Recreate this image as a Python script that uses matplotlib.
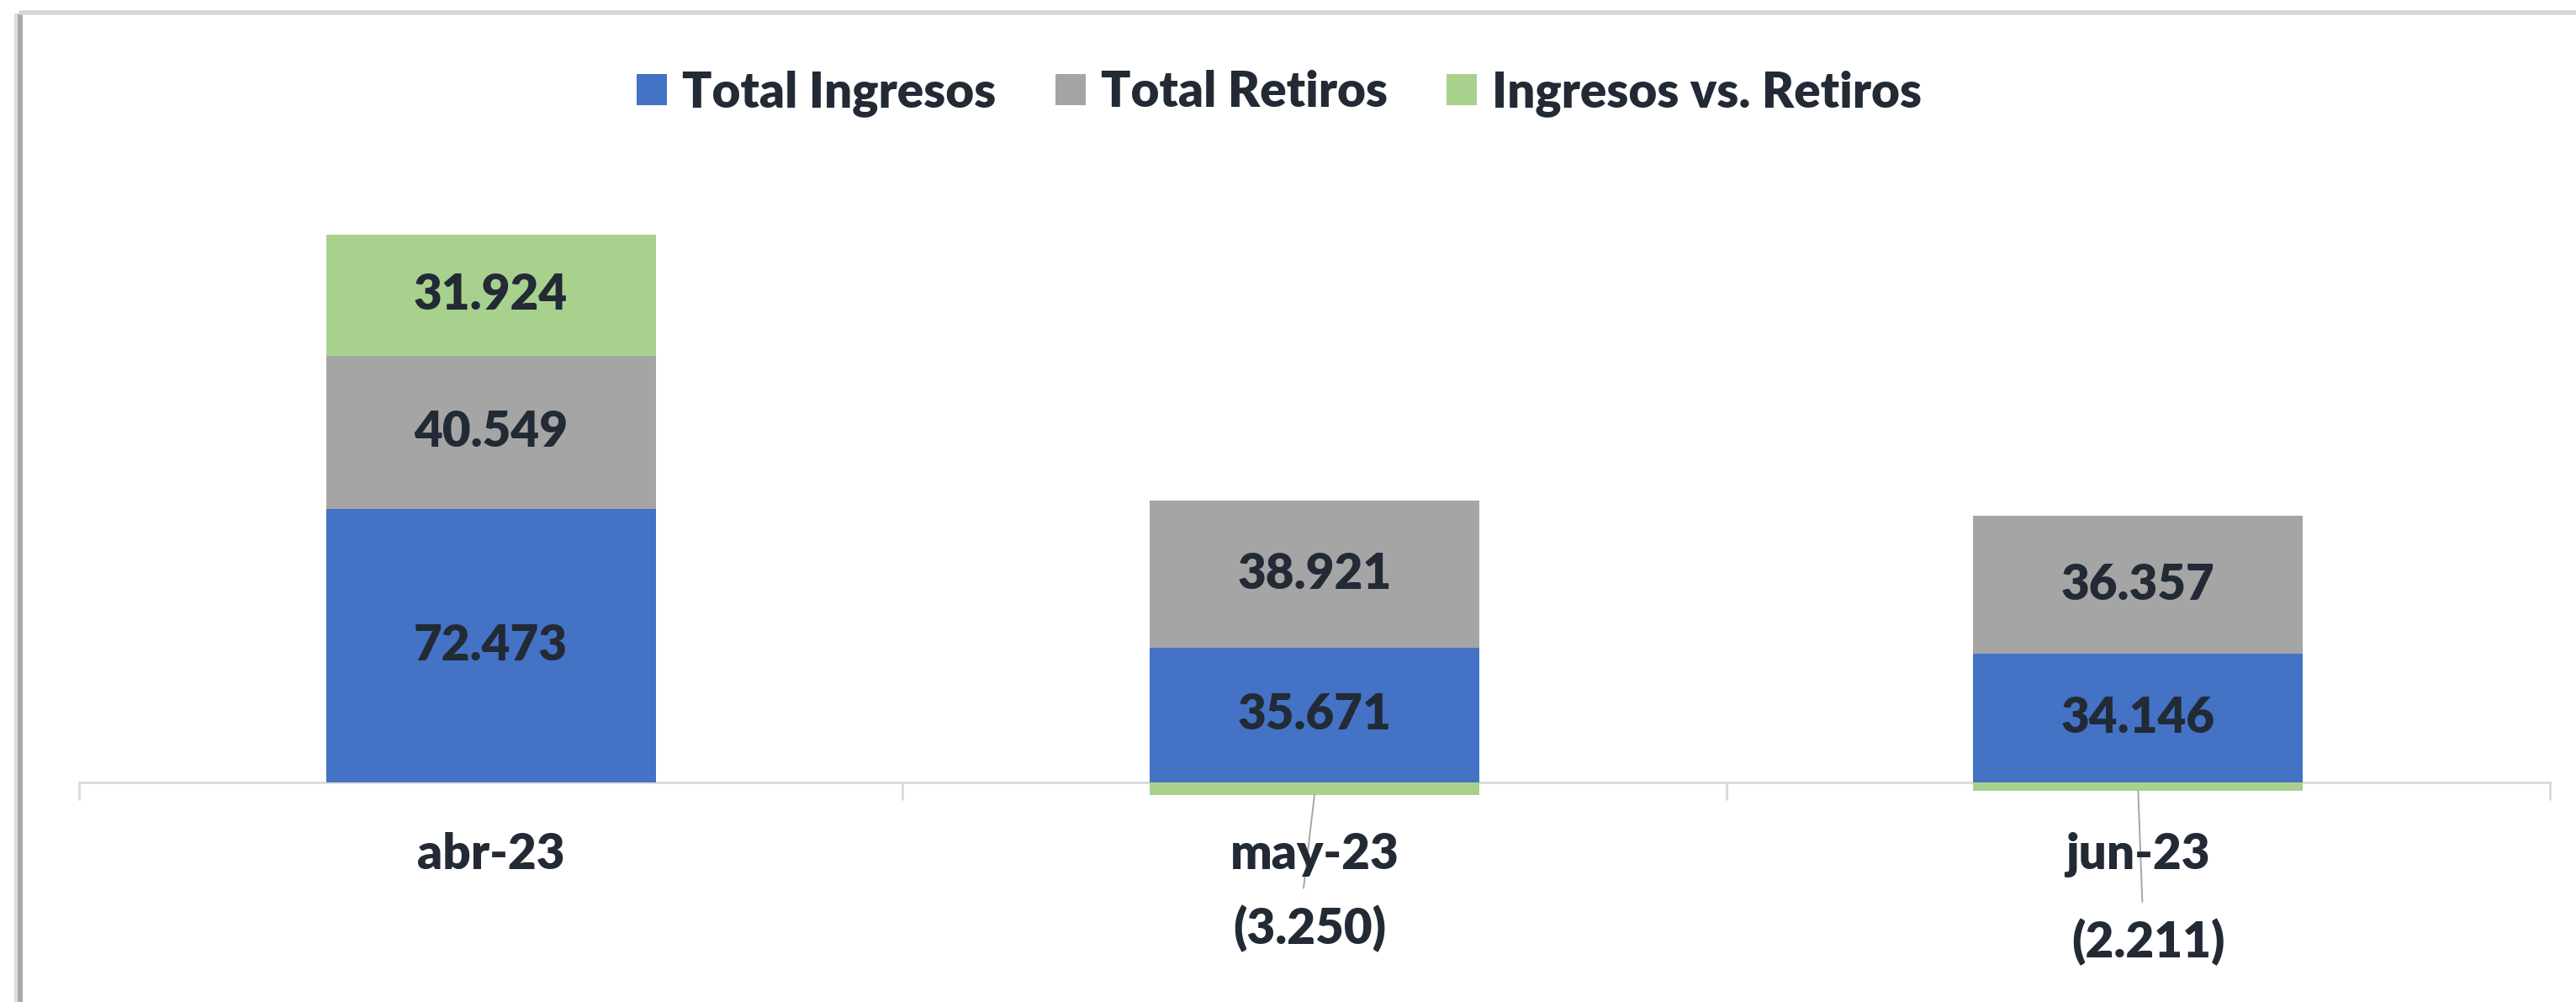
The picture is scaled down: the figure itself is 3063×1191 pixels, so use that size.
import matplotlib
matplotlib.use("Agg")
import matplotlib.pyplot as plt
from matplotlib.lines import Line2D
from matplotlib.patches import Patch

# ---- data ----
categories = ["abr-23", "may-23", "jun-23"]
ingresos = [72473, 35671, 34146]
retiros = [40549, 38921, 36357]
neto = [31924, -3250, -2211]
series_names = ["Total Ingresos", "Total Retiros", "Ingresos vs. Retiros"]

# ---- style ----
C_BLUE = "#4472C4"
C_GRAY = "#A5A5A5"
C_GREEN = "#A9D18E"
C_TEXT = "#222A35"
C_AXIS = "#D9D9D9"
FONT = "Lato"
FW = "heavy"
FS = 21

W, H, DPI = 3063, 1191, 200
plt.rcParams["font.family"] = [FONT, "DejaVu Sans"]

fig = plt.figure(figsize=(W / DPI, H / DPI), dpi=DPI)
fig.patch.set_facecolor("white")

# axes placement in pixels
x_left, x_right, y_zero = 94, 3032, 930
px_per_unit = 4.49 / 1000.0
ax = fig.add_axes([x_left / W, 0, (x_right - x_left) / W, 1])
ax.set_facecolor("none")
ax.set_xlim(-0.5, len(categories) - 0.5)
ax.set_ylim(-(H - y_zero) / px_per_unit, y_zero / px_per_unit)

x = list(range(len(categories)))
bw = 0.40

ax.bar(x, ingresos, bw, color=C_BLUE, linewidth=0, zorder=2)
ax.bar(x, retiros, bw, bottom=ingresos, color=C_GRAY, linewidth=0, zorder=2)
green_bottom = [i + r if n >= 0 else 0 for i, r, n in zip(ingresos, retiros, neto)]
ax.bar(x, neto, bw, bottom=green_bottom, color=C_GREEN, linewidth=0, zorder=2)

def fmt(v):
    s = f"{abs(v):,}".replace(",", ".")
    return f"({s})" if v < 0 else s

lab_kw = dict(ha="center", va="center", fontsize=FS, fontweight=FW, color=C_TEXT, zorder=5)
for i in x:
    ax.text(i, ingresos[i] / 2, fmt(ingresos[i]), **lab_kw)
    ax.text(i, ingresos[i] + retiros[i] / 2, fmt(retiros[i]), **lab_kw)
    if neto[i] >= 0:
        ax.text(i, green_bottom[i] + neto[i] / 2, fmt(neto[i]), **lab_kw)

# negative labels placed below category labels with leader lines (pixel offsets)
neg_label_off = {1: (-6, -192), 2: (12, -208)}
leader_end_off = {1: (-13, -111), 2: (5, -132)}
for i in x:
    if neto[i] < 0:
        ax.annotate(fmt(neto[i]), xy=(i, 0), xytext=neg_label_off[i],
                    textcoords="offset pixels", ha="center", va="baseline",
                    fontsize=FS, fontweight=FW, color=C_TEXT,
                    annotation_clip=False)
        ax.annotate("", xy=(i, neto[i]),
                    xytext=leader_end_off[i], textcoords="offset pixels",
                    arrowprops=dict(arrowstyle="-", color="#A6A6A6", lw=0.7,
                                    shrinkA=0, shrinkB=0),
                    annotation_clip=False)

# category labels
for i, c in enumerate(categories):
    ax.annotate(c, xy=(i, 0), xytext=(0, -103), textcoords="offset pixels",
                ha="center", va="baseline", fontsize=FS, fontweight=FW,
                color=C_TEXT, annotation_clip=False)

# axis styling
for s in ["left", "right", "top"]:
    ax.spines[s].set_visible(False)
ax.spines["bottom"].set_position(("data", 0))
ax.spines["bottom"].set_color(C_AXIS)
ax.spines["bottom"].set_linewidth(1.0)
ax.spines["bottom"].set_zorder(1)
ax.set_yticks([])
ax.set_xticks(x)
ax.set_xticklabels([])
ax.tick_params(axis="x", which="major", length=0)
ax.set_xticks([k - 0.5 for k in range(len(categories) + 1)], minor=True)
ax.tick_params(axis="x", which="minor", length=7.5, width=1.0, color=C_AXIS, direction="out")

# legend
handles = [Patch(facecolor=c, edgecolor="none") for c in (C_BLUE, C_GRAY, C_GREEN)]
fig.legend(handles, series_names, loc="center", bbox_to_anchor=(1521 / W, 1 - 111 / H),
           ncol=3, frameon=False, prop=dict(family=FONT, weight=FW, size=FS),
           labelcolor=C_TEXT, handlelength=0.62, handleheight=0.62,
           handletextpad=0.31, columnspacing=1.2, borderpad=0)

# outer frame with shadow-like edges (left and top only; the rest is cut off)
fig.add_artist(Line2D([23 / W, 23 / W], [0, 1 - 16 / H], color="#A8A8A8", lw=2.6,
                      solid_capstyle="butt", transform=fig.transFigure))
fig.add_artist(Line2D([19 / W, 19 / W], [0, 1 - 16 / H], color="#DDDDDD", lw=1.5,
                      solid_capstyle="butt", transform=fig.transFigure))
fig.add_artist(Line2D([23 / W, 1], [1 - 15 / H, 1 - 15 / H], color="#D6D6D6", lw=2.0,
                      solid_capstyle="butt", transform=fig.transFigure))

fig.savefig("out.png", dpi=DPI, facecolor="white")
